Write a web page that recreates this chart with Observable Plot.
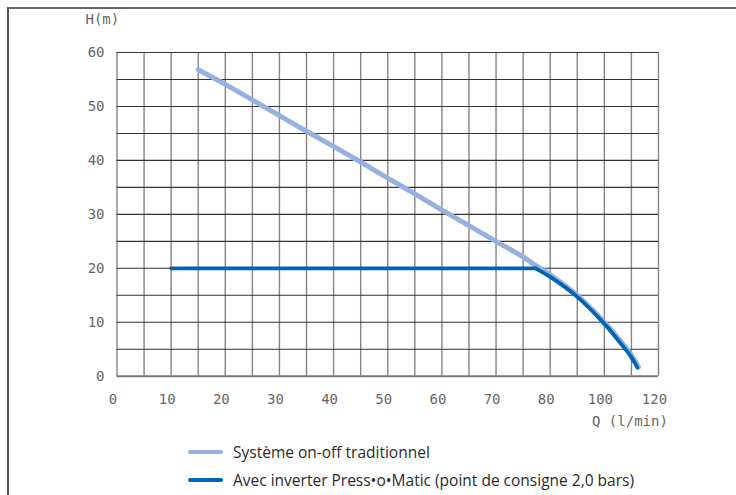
<!DOCTYPE html>
<html>
<head>
<meta charset="utf-8">
<script src="https://cdn.jsdelivr.net/npm/d3@7"></script>
<script src="https://cdn.jsdelivr.net/npm/@observablehq/plot@0.6"></script>
<style>
  html, body { margin: 0; padding: 0; background: #fff; }
  body { width: 736px; height: 495px; position: relative; overflow: hidden; }
  #frame { position: absolute; left: 7px; top: 7px; width: 740px; height: 500px;
           border-left: 2px solid #555; border-top: 2px solid #666; box-sizing: border-box; }
  #chart { position: absolute; left: 0; top: 0; }
  .leg { position: absolute; left: 188px; font-family: "Open Sans", sans-serif; font-size: 15.5px; color: #2a2a2a;
         display: flex; align-items: center; white-space: nowrap; height: 20px; }
  .leg .sw { width: 35px; height: 4px; border-radius: 2px; margin-right: 10px; flex: none; }
</style>
</head>
<body>
<div id="frame"></div>
<div id="chart"></div>
<div class="leg" id="leg1" style="top:442px"><span class="sw" style="background:#94b1e0"></span><span>Système on-off traditionnel</span></div>
<div class="leg" id="leg2" style="top:470px"><span class="sw" style="background:#0064b4"></span><span>Avec inverter Press•o•Matic (point de consigne 2,0 bars)</span></div>
<script>
// Tick positions and labels (axis is drawn with equal spacing; labels as printed)
const xTickPos = [0, 10, 20, 30, 40, 50, 60, 70, 80, 90, 100];
const xTickLabels = ["0", "10", "20", "30", "40", "50", "60", "70", "80", "100", "120"];
const yTicks = [0, 10, 20, 30, 40, 50, 60];

// Traditional on-off system curve (x position, H in m)
const onoffQ = [15, 20, 25, 30, 35, 40, 45, 50, 55, 60, 65, 70, 75, 77.5, 80, 85, 90, 93, 95, 96.3];
const onoffH = [56.8, 54.1, 51.2, 48.3, 45.4, 42.6, 39.7, 36.7, 33.8, 30.8, 27.9, 25.0, 22.1, 20.4, 18.8, 15.0, 10.0, 6.5, 3.9, 1.7];

// Inverter Press-o-Matic curve (set point 2.0 bar): flat part, then falling part
const invQ = [10, 77.3, 80, 85, 90, 93, 95, 96.1];
const invH = [20, 20, 18.4, 14.7, 9.7, 6.1, 3.5, 1.6];

const onoff = onoffQ.map((q, i) => ({q, h: onoffH[i]}));
const inv = invQ.map((q, i) => ({q, h: invH[i]}));
const labelMap = new Map(xTickPos.map((p, i) => [p, xTickLabels[i]]));

const W = 736, H = 430;
const mL = 116.5, mR = 78, mT = 52, mB = H - 375.7;
const axisFont = "DejaVu Sans Mono";
const axisColor = "#666";

const plot = Plot.plot({
  width: W,
  height: H,
  marginLeft: mL,
  marginRight: mR,
  marginTop: mT,
  marginBottom: mB,
  style: {fontFamily: axisFont, fontSize: "14px", background: "transparent", overflow: "visible"},
  x: {domain: [0, 100], axis: null},
  y: {domain: [0, 60], axis: null},
  marks: [
    Plot.ruleX(d3.range(0, 101, 5), {stroke: "#858585", strokeWidth: 1.4}),
    Plot.ruleY(d3.range(5, 61, 5), {stroke: "#333", strokeWidth: 1.1}),
    Plot.ruleY([0], {stroke: "#777", strokeWidth: 2}),
    Plot.text(xTickPos, {x: d => d, y: 0, text: d => labelMap.get(d), dy: 23.6, dx: -4,
      lineAnchor: "middle", fill: axisColor, fontFamily: axisFont, fontSize: 14}),
    Plot.text(yTicks, {x: 0, y: d => d, text: d => String(d), dx: -12.5, textAnchor: "end",
      lineAnchor: "middle", fill: axisColor, fontFamily: axisFont, fontSize: 14}),
    Plot.text(["H(m)"], {frameAnchor: "top-left", dx: 85 - mL, dy: 19 - mT, textAnchor: "start",
      lineAnchor: "middle", fill: axisColor, fontFamily: axisFont, fontSize: 14}),
    Plot.text(["Q (l/min)"], {frameAnchor: "bottom-left", dx: 591.5 - mL, dy: 420.7 - 375.7, textAnchor: "start",
      lineAnchor: "middle", fill: axisColor, fontFamily: axisFont, fontSize: 14}),
    Plot.line(onoff, {x: "q", y: "h", stroke: "#94b1e0", strokeWidth: 5, curve: "catmull-rom"}),
    Plot.line(inv.slice(0, 2), {x: "q", y: "h", stroke: "#0064b4", strokeWidth: 3.8}),
    Plot.line(inv.slice(1), {x: "q", y: "h", stroke: "#0064b4", strokeWidth: 3.8, curve: "catmull-rom"})
  ]
});
document.getElementById("chart").appendChild(plot);
</script>
</body>
</html>
